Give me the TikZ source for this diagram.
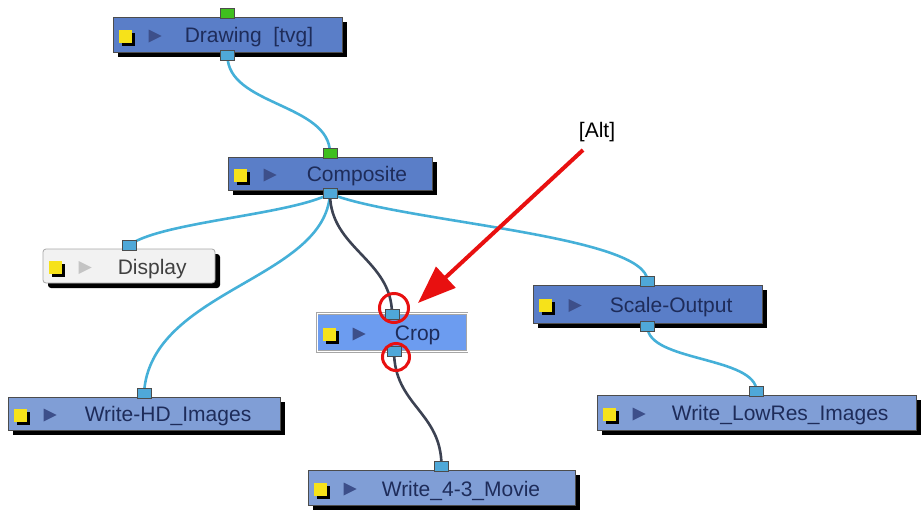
\documentclass[tikz,border=0pt]{standalone}
\usepackage{fontspec}
\setmainfont{Liberation Sans}
\usepackage{tikz}
\usetikzlibrary{arrows.meta,shadows,backgrounds}
\definecolor{nodeblue}{HTML}{5A7EC8}
\definecolor{nodelight}{HTML}{809ED6}
\definecolor{nodesel}{HTML}{6C9CF0}
\definecolor{nodetext}{HTML}{1E2C5A}
\definecolor{wirecyan}{HTML}{45B0D8}
\definecolor{wiredark}{HTML}{3C4252}
\definecolor{portblue}{HTML}{4FA8D8}
\definecolor{portgreen}{HTML}{3FBF1F}
\definecolor{iconyellow}{HTML}{F6E21A}
\definecolor{triblue}{HTML}{3D4F8A}
\definecolor{trigray}{HTML}{C4C4C4}
\definecolor{alertred}{HTML}{E81010}
\tikzset{
  every picture/.append style={font=\fontsize{21}{24}\selectfont},
  modbox/.style={draw=black!70,line width=0.8pt,fill=nodeblue,inner sep=0pt,
    drop shadow={fill=black,opacity=1,shadow xshift=5pt,shadow yshift=-5pt}},
  writebox/.style={modbox,fill=nodelight},
  dispbox/.style={modbox,fill=black!5,draw=black!35,rounded corners=3pt},
  cropbox/.style={draw=black!35,double=white,double distance=1pt,line width=0.6pt,
    fill=nodesel,inner sep=0pt},
  modtext/.style={text=nodetext,inner sep=0pt,anchor=west},
  port/.style={draw=black!70,line width=0.6pt,fill=portblue,inner sep=0pt,
    minimum width=14pt,minimum height=10pt},
  wire/.style={wirecyan,line width=2.6pt},
  darkwire/.style={wiredark,line width=2.6pt},
  ring/.style={draw=alertred,line width=3pt,circle,inner sep=0pt,minimum size=29pt}
}
\begin{document}
\begin{tikzpicture}[x=1pt,y=-1pt]
  \useasboundingbox (0,0) rectangle (921,512);
  \node[modbox,minimum width=229pt,minimum height=35pt] (drawing) at (227.5,34.5) {};
  \node[modbox,minimum width=204pt,minimum height=33pt] (composite) at (330,173.5) {};
  \node[dispbox,minimum width=172pt,minimum height=34pt] (display) at (129,266) {};
  \node[cropbox,minimum width=150pt,minimum height=38pt] (crop) at (392,332.5) {};
  \node[modbox,minimum width=229pt,minimum height=38pt] (scale) at (647.5,304) {};
  \node[writebox,minimum width=272pt,minimum height=33pt] (writehd) at (144,413.5) {};
  \node[writebox,minimum width=319pt,minimum height=35pt] (writelow) at (756.5,412.5) {};
  \node[writebox,minimum width=267pt,minimum height=35pt] (writemovie) at (441.5,487.5) {};
  \foreach \n/\c in {drawing/triblue,composite/triblue,display/trigray,crop/triblue,
                     scale/triblue,writehd/triblue,writelow/triblue,writemovie/triblue} {
    \fill[black] ([shift={(9,-2)}]\n.west) rectangle ++(13,13);
    \fill[iconyellow] ([shift={(6,-5)}]\n.west) rectangle ++(13,13);
    \fill[\c] ([shift={(36,-5)}]\n.west) -- ++(13,6.5) -- ++(-13,6.5) -- cycle;
  }
  \node[modtext] (drawing-t) at ([shift={(72,3)}]drawing.west) {Drawing\ \ [tvg]};
  \node[modtext] (composite-t) at ([shift={(79,3)}]composite.west) {Composite};
  \node[modtext,text=black!75] (display-t) at ([shift={(75,3)}]display.west) {Display};
  \node[modtext] (crop-t) at ([shift={(78,3)}]crop.west) {Crop};
  \node[modtext] (scale-t) at ([shift={(77,3)}]scale.west) {Scale-Output};
  \node[modtext] (writehd-t) at ([shift={(77,3)}]writehd.west) {Write-HD\_Images};
  \node[modtext] (writelow-t) at ([shift={(75,3)}]writelow.west) {Write\_LowRes\_Images};
  \node[modtext] (writemovie-t) at ([shift={(74,3)}]writemovie.west) {Write\_4-3\_Movie};
  \foreach \n in {drawing,composite}
    \node[port,fill=portgreen,anchor=south] (\n-in) at ([yshift=-2pt]\n.north) {};
  \foreach \n in {display,scale,writehd,writelow,writemovie}
    \node[port,anchor=south] (\n-in) at ([yshift=-2pt]\n.north) {};
  \foreach \n in {drawing,composite,scale}
    \node[port,anchor=north] (\n-out) at ([yshift=2pt]\n.south) {};
  \node[port] (crop-in) at ([yshift=-1pt]crop.north) {};
  \node[port] (crop-out) at ([xshift=2pt,yshift=1pt]crop.south) {};
  \begin{scope}[on background layer]
    \draw[wire] (drawing-out.center) .. controls +(0,50) and +(0,-50) .. (composite-in.center);
    \draw[wire] (composite-out.center) .. controls (290,215) and (160,222) .. (display-in.center);
    \draw[wire] (composite-out.center) .. controls (325,280) and (150,290) .. (writehd-in.center);
    \draw[wire] (composite-out.center) .. controls (400,222) and (648,235) .. (scale-in.center);
    \draw[darkwire] (composite-out.center) .. controls +(0,55) and +(0,-55) .. (crop-in.center);
    \draw[darkwire] (crop-out.center) .. controls +(0,55) and +(0,-55) .. (writemovie-in.center);
    \draw[wire] (scale-out.center) .. controls +(0,35) and +(0,-35) .. (writelow-in.center);
  \end{scope}
  \node[ring] (ring-in) at (394,308) {};
  \node[ring,minimum size=27pt] (ring-out) at (396,357) {};
  \node[inner sep=0pt] (alt) at (597,132) {[Alt]};
  \coordinate (alt-tail) at (583,150);
  \coordinate (alt-tip) at (418,303);
  \draw[alertred,line width=4pt,-{Triangle[length=38pt,width=28pt]}] (alt-tail) -- (alt-tip);
\end{tikzpicture}
\end{document}
